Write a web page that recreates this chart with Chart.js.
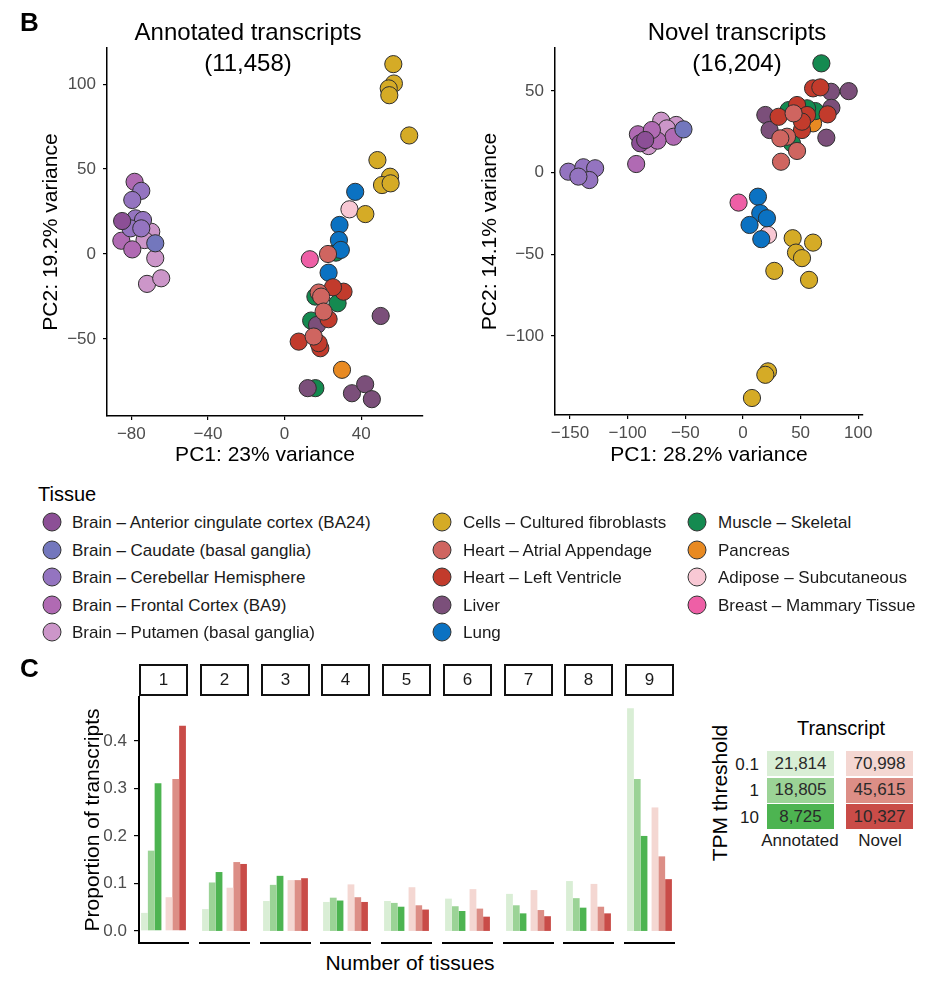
<!DOCTYPE html>
<html>
<head>
<meta charset="utf-8">
<script src="https://cdn.jsdelivr.net/npm/chart.js@4.4.1/dist/chart.umd.min.js"></script>
<style>
  body { margin: 0; background: #fff; }
  #fig { position: relative; width: 944px; height: 996px; overflow: hidden; background: #fff;
         font-family: 'Liberation Sans', Arial, sans-serif; color: #000; }
  #fig canvas { position: absolute; }
  .t { position: absolute; white-space: nowrap; line-height: 1; }
  .dot { position: absolute; width: 19px; height: 19px; border-radius: 50%; border: 1px solid #333;
         box-sizing: border-box; transform: translate(-50%, -50%); }
  .strip { position: absolute; border: 2px solid #111; box-sizing: border-box; font-size: 17px;
           color: #1a1a1a; display: flex; align-items: center; justify-content: center; }
  .tile { position: absolute; font-size: 17px; color: #2a2a2a; display: flex; align-items: center;
          justify-content: center; }
</style>
</head>
<body>
<div id="fig"></div>
<script>
// ---- tissues ----
const tissueNames = [
  'Brain – Anterior cingulate cortex (BA24)', 'Brain – Caudate (basal ganglia)',
  'Brain – Cerebellar Hemisphere', 'Brain – Frontal Cortex (BA9)', 'Brain – Putamen (basal ganglia)',
  'Cells – Cultured fibroblasts', 'Heart – Atrial Appendage', 'Heart – Left Ventricle', 'Liver', 'Lung',
  'Muscle – Skeletal', 'Pancreas', 'Adipose – Subcutaneous', 'Breast – Mammary Tissue'
];
const tissueColors = [
  '#8c4f96', '#7377bd', '#9474c0', '#b06ab3', '#cc96c9',
  '#d5ab26', '#cf6560', '#c23b2c', '#7b4f7a', '#0b72c2',
  '#148a50', '#e88a22', '#f8c8d4', '#ee5fa6'
];

// ---- PCA, annotated transcripts ----
const annotatedTissue = [
  3, 2, 2, 0, 2, 2, 2, 2, 4, 3, 3, 4, 1, 4, 4, 4,
  5, 5, 5, 5, 5, 5, 5, 5, 5, 5,
  9, 9, 9, 9, 9, 12, 13,
  6, 6, 6, 6, 6,
  7, 7, 7, 7, 7, 7,
  10, 10, 10, 10, 10,
  8, 8, 8, 8, 8, 8, 11
];
const annotatedPC1 = [
  -78.3, -74.8, -79.5, -84.8, -77.8, -73.9, -80.4, -74.8, -69.6, -85.2, -79.5, -73.1, -67.5, -67.5, -71.8, -64.4,
  56.8, 57.1, 54.4, 54.7, 65.1, 48.5, 55.1, 50.9, 55.4, 42.2,
  36.9, 28.7, 28.4, 29.4, 23.0, 33.9, 13.2,
  22.7, 17.8, 19.1, 20.4, 15.2,
  7.4, 18.7, 23.0, 30.8, 25.3, 17.8,
  26.8, 27.7, 16.1, 13.9, 16.1,
  17.0, 12.1, 50.2, 35.2, 42.1, 45.6, 30.0
];
const annotatedPC2 = [
  42.5, 37.2, 31.8, 19.4, 21.0, 20.0, 15.1, 15.1, 13.1, 7.8, 2.7, 8.2, 6.3, -2.5, -17.6, -14.3,
  111.8, 100.4, 97.5, 93.5, 69.8, 55.3, 45.5, 40.6, 41.6, 23.5,
  36.6, 17.1, 8.2, 2.4, -11.0, 26.3, -3.1,
  0.0, -22.7, -25.1, -33.9, -48.6,
  -51.6, -55.5, -38.4, -22.2, -19.6, -52.5,
  0.8, -29.0, -25.1, -39.2, -79.0,
  -41.8, -79.0, -36.5, -82.0, -76.7, -85.5, -68.2
];
const annotatedXTicks = [-80, -40, 0, 40];
const annotatedYTicks = [-50, 0, 50, 100];

// ---- PCA, novel transcripts ----
const novelTissue = [
  2, 2, 2, 2, 2,
  3, 3, 3, 3, 3, 0, 0, 4, 4, 4, 4, 1,
  10, 10, 10, 10, 10,
  7, 7, 7, 7, 7, 7, 7, 7,
  8, 8, 8, 8, 8, 8,
  6, 6, 6, 6, 6, 11,
  9, 9, 9, 9, 9, 13, 12,
  5, 5, 5, 5, 5, 5, 5, 5, 5
];
const novelPC1 = [
  -151.4, -138.4, -128.2, -133.2, -142.7,
  -92.6, -91.1, -60.2, -74.1, -79.0, -89.1, -84.8, -70.9, -57.9, -81.9, -66.0, -51.6,
  68.0, 39.6, 62.8, 42.5, 55.6,
  60.8, 67.1, 30.9, 46.9, 73.4, 51.2, 55.6, 51.2,
  76.4, 91.7, 19.4, 76.7, 23.1, 72.3,
  43.9, 38.2, 46.9, 33.0, 32.4, 60.8,
  13.0, 15.0, 20.8, 5.7, 15.9, -3.8, 21.7,
  43.1, 60.8, 46.0, 51.2, 27.2, 57.3, 21.7, 19.4, 7.8
];
const novelPC2 = [
  0.6, 3.3, 2.7, -4.5, -2.4,
  5.3, 23.5, 22.0, 19.6, 26.1, 18.0, 20.0, 31.8, 29.2, 16.3, 27.1, 26.5,
  66.9, 38.3, 37.7, 18.0, 39.4,
  51.6, 52.2, 34.2, 41.4, 35.7, 26.1, 35.3, 31.2,
  49.5, 49.9, 35.3, 39.7, 26.1, 21.4,
  36.3, 22.0, 13.3, 6.7, 21.0, 30.2,
  -14.7, -24.8, -27.9, -32.0, -40.7, -18.3, -38.1,
  -40.1, -42.8, -48.9, -52.3, -60.1, -65.6, -121.6, -123.7, -137.9
];
const novelXTicks = [-150, -100, -50, 0, 50, 100];
const novelYTicks = [-100, -50, 0, 50];

// ---- proportion of transcripts by number of tissues ----
const tissueCounts = ['1', '2', '3', '4', '5', '6', '7', '8', '9'];
const annotatedTpm01 = [0.038, 0.046, 0.063, 0.061, 0.063, 0.068, 0.078, 0.105, 0.469];
const annotatedTpm1  = [0.169, 0.102, 0.097, 0.070, 0.059, 0.052, 0.054, 0.069, 0.320];
const annotatedTpm10 = [0.311, 0.124, 0.116, 0.064, 0.051, 0.042, 0.037, 0.049, 0.200];
const novelTpm01 = [0.071, 0.091, 0.107, 0.098, 0.092, 0.088, 0.086, 0.099, 0.260];
const novelTpm1  = [0.320, 0.145, 0.107, 0.071, 0.054, 0.047, 0.044, 0.051, 0.157];
const novelTpm10 = [0.432, 0.141, 0.111, 0.061, 0.045, 0.030, 0.031, 0.037, 0.109];
const proportionTicks = [0, 0.1, 0.2, 0.3, 0.4];

// ---- transcript counts legend ----
const tpmThresholds = ['0.1', '1', '10'];
const annotatedCounts = ['21,814', '18,805', '8,725'];
const novelCounts = ['70,998', '45,615', '10,327'];

const annotatedShades = ['#d9eed5', '#9bd396', '#4db451'];
const novelShades = ['#f4d7d2', '#dc8e86', '#c94c48'];

const FONT = "'Liberation Sans', Arial, sans-serif";
Chart.defaults.font.family = FONT;

const fig = document.getElementById('fig');

function addCanvas(left, top, w, h) {
  const c = document.createElement('canvas');
  c.width = w; c.height = h;
  c.style.left = left + 'px'; c.style.top = top + 'px';
  c.style.width = w + 'px'; c.style.height = h + 'px';
  fig.appendChild(c);
  return c;
}

function text(str, x, y, size, opts = {}) {
  const d = document.createElement('div');
  d.className = 't';
  d.textContent = str;
  d.style.left = x + 'px';
  d.style.top = y + 'px';
  d.style.fontSize = size + 'px';
  if (opts.weight) d.style.fontWeight = opts.weight;
  d.style.color = opts.color || '#000';
  let tf = opts.anchor === 'left' ? 'translate(0,-50%)'
         : opts.anchor === 'right' ? 'translate(-100%,-50%)' : 'translate(-50%,-50%)';
  if (opts.rotate) tf += ' rotate(-90deg)';
  d.style.transform = tf;
  fig.appendChild(d);
  return d;
}

const minus = v => (v < 0 ? '\u2212' + Math.abs(v) : String(v));

function pcaAxis(min, max, ticks, title, tickPad, fit) {
  return {
    type: 'linear', min, max,
    afterBuildTicks: s => { s.ticks = ticks.map(v => ({ value: v })); },
    afterFit: fit,
    grid: { drawOnChartArea: false, drawTicks: true, tickLength: 4, color: '#000', lineWidth: 1.2 },
    border: { display: true, color: '#000', width: 1.5 },
    ticks: { color: '#4d4d4d', font: { size: 17 }, padding: tickPad, maxRotation: 0, autoSkip: false,
             callback: v => minus(v) },
    title: { display: true, text: title, color: '#000', font: { size: 21, lineHeight: 1.2 }, padding: 0 }
  };
}

function pcaChart(canvas, pc1, pc2, tissue, cfg) {
  const datasets = tissueNames.map((name, t) => ({
    label: name,
    data: pc1.map((x, i) => ({ x, y: pc2[i], t: tissue[i] })).filter(p => p.t === t),
    backgroundColor: tissueColors[t],
    borderColor: '#2e2e2e',
    borderWidth: 1,
    pointRadius: 8.6,
    clip: false
  }));
  return new Chart(canvas, {
    type: 'scatter',
    data: { datasets },
    options: {
      responsive: false, animation: false, events: [],
      layout: { padding: cfg.padding },
      plugins: { legend: { display: false }, tooltip: { enabled: false } },
      scales: {
        x: pcaAxis(cfg.xMin, cfg.xMax, cfg.xTicks, cfg.xTitle, 4, s => { s.height = cfg.xH; }),
        y: pcaAxis(cfg.yMin, cfg.yMax, cfg.yTicks, cfg.yTitle, 7, s => { s.width = cfg.yW; })
      }
    }
  });
}

// panel B, left
pcaChart(addCanvas(0, 0, 440, 480), annotatedPC1, annotatedPC2, annotatedTissue, {
  padding: { left: 39, top: 48, right: 17, bottom: 12 }, xH: 52, yW: 68,
  xMin: -92.7, xMax: 72.3, yMin: -95.4, yMax: 121.3,
  xTicks: annotatedXTicks, yTicks: annotatedYTicks,
  xTitle: 'PC1: 23% variance', yTitle: 'PC2: 19.2% variance'
});

// panel B, right
pcaChart(addCanvas(460, 0, 484, 480), novelPC1, novelPC2, novelTissue, {
  padding: { left: 18, top: 48, right: 81, bottom: 12 }, xH: 53, yW: 77,
  xMin: -163, xMax: 104.1, yMin: -148.3, yMax: 76.3,
  xTicks: novelXTicks, yTicks: novelYTicks,
  xTitle: 'PC1: 28.2% variance', yTitle: 'PC2: 14.1% variance'
});

// panel C, one small chart per facet
const annotatedSeries = [annotatedTpm01, annotatedTpm1, annotatedTpm10];
const novelSeries = [novelTpm01, novelTpm1, novelTpm10];
const facetLeft0 = 139, facetPitch = 60.75, facetW = 49;

tissueCounts.forEach((count, k) => {
  const first = k === 0;
  const left = Math.round(facetLeft0 + k * facetPitch);
  const cLeft = first ? 60 : left - 3;
  const cW = left + facetW + 3 - cLeft;
  const canvas = addCanvas(cLeft, 690, cW, 260);

  const datasets = tpmThresholds.map((tpm, l) => ({
    label: 'TPM ' + tpm,
    data: [annotatedSeries[l][k], novelSeries[l][k]],
    backgroundColor: [annotatedShades[l], novelShades[l]],
    borderWidth: 0,
    categoryPercentage: 0.83,
    barPercentage: 1
  }));

  new Chart(canvas, {
    type: 'bar',
    data: { labels: ['Annotated', 'Novel'], datasets },
    options: {
      responsive: false, animation: false, events: [],
      layout: { padding: { left: first ? 21 : 3, right: 3, top: 7, bottom: 7 } },
      plugins: { legend: { display: false }, tooltip: { enabled: false } },
      scales: {
        x: {
          afterFit: s => { s.height = 0; },
          grid: { display: false, drawTicks: false },
          ticks: { display: false },
          border: { display: true, color: '#000', width: 2 }
        },
        y: {
          display: first,
          min: -0.0254, max: 0.4925,
          afterBuildTicks: s => { s.ticks = proportionTicks.map(v => ({ value: v })); },
          afterFit: s => {
            s.width = first ? 58 : 0;
            s.paddingTop = 0;
            s.paddingBottom = 0;
          },
          grid: { drawOnChartArea: false, drawTicks: true, tickLength: 5, color: '#000', lineWidth: 1.2 },
          border: { display: true, color: '#000', width: 2 },
          ticks: { color: '#4d4d4d', font: { size: 17 }, padding: 7, callback: v => v.toFixed(1) },
          title: { display: true, text: 'Proportion of transcripts', color: '#000',
                   font: { size: 21, lineHeight: 1.2 }, padding: 0 }
        }
      }
    }
  });

  const strip = document.createElement('div');
  strip.className = 'strip';
  strip.textContent = count;
  strip.style.left = left + 'px';
  strip.style.top = '664px';
  strip.style.width = facetW + 'px';
  strip.style.height = '32px';
  fig.appendChild(strip);
});

// ---- texts ----
text('B', 20, 22, 26, { weight: 'bold', anchor: 'left' });
text('C', 20, 668, 26, { weight: 'bold', anchor: 'left' });
text('Annotated transcripts', 248, 32, 24);
text('(11,458)', 248, 63, 24);
text('Novel transcripts', 737, 32, 24);
text('(16,204)', 737, 63, 24);
text('Number of tissues', 410, 962, 21);

// tissue legend
text('Tissue', 38, 494, 20, { anchor: 'left' });
const legendDotX = [52, 442, 697];
const legendTextX = [72, 463, 718];
tissueNames.forEach((name, i) => {
  const col = Math.floor(i / 5), row = i % 5;
  const y = 522 + row * 27.5;
  const dot = document.createElement('div');
  dot.className = 'dot';
  dot.style.left = legendDotX[col] + 'px';
  dot.style.top = y + 'px';
  dot.style.background = tissueColors[i];
  fig.appendChild(dot);
  text(name, legendTextX[col], y, 17, { anchor: 'left', color: '#1a1a1a' });
});

// transcript / TPM threshold legend
text('Transcript', 841, 728, 20);
text('TPM threshold', 719, 793, 21, { rotate: true });
const tileX = [767, 846];
const tileY = [751, 777.5, 804];
tpmThresholds.forEach((tpm, r) => {
  text(tpm, 759, tileY[r] + 12.5, 17, { anchor: 'right', color: '#1a1a1a' });
  [[annotatedCounts, annotatedShades], [novelCounts, novelShades]].forEach(([counts, shades], c) => {
    const tile = document.createElement('div');
    tile.className = 'tile';
    tile.textContent = counts[r];
    tile.style.left = tileX[c] + 'px';
    tile.style.top = tileY[r] + 'px';
    tile.style.width = '67px';
    tile.style.height = '25px';
    tile.style.background = shades[r];
    fig.appendChild(tile);
  });
});
text('Annotated', 800, 840, 17, { color: '#1a1a1a' });
text('Novel', 880, 840, 17, { color: '#1a1a1a' });
</script>
</body>
</html>
